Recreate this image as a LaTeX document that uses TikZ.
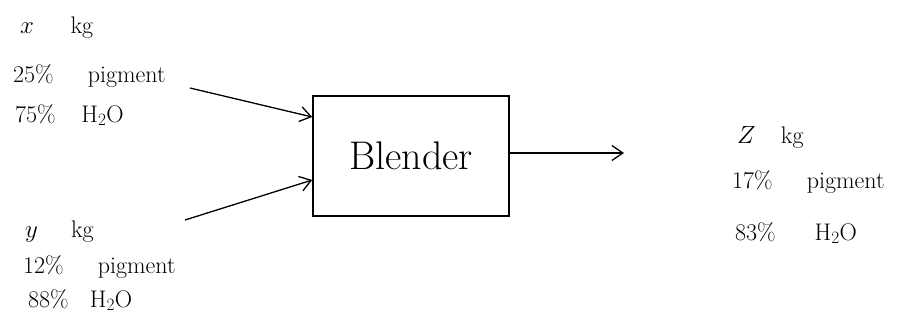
\documentclass[tikz,border=0pt]{standalone}
\usepackage{amsmath}
\usepackage{tikz}
\usetikzlibrary{arrows.meta}
\tikzset{every picture/.append style={font=\fontsize{24}{28}\selectfont}}
\newcommand{\gap}{\hspace{1.42em}}
\tikzset{
  stream/.style={anchor=base west,inner sep=0pt},
  flow/.style={-{Straight Barb[length=11pt,width=15pt]},line width=1.3pt},
  unit/.style={draw,line width=1.5pt,minimum width=196pt,minimum height=120pt,
    font=\fontsize{40}{46}\selectfont},
}

\begin{document}
\begin{tikzpicture}[x=1pt,y=-1pt]
    \useasboundingbox (0,0) rectangle (902,332);
    \node[unit] (blender) at (411,156) {Blender};
    % feed x
    \node[stream] (xmass) at (20,33) {$x$\hspace{1.52em}kg};
    \node[stream] (xpig) at (13,82) {25\%\gap pigment};
    \node[stream] (xwat) at (15,122) {75\%\hspace{1.07em}H$_2$O};
    % feed y
    \node[stream] (ymass) at (25,237) {$y$\hspace{1.38em}kg};
    \node[stream] (ypig) at (23,273) {12\%\gap pigment};
    \node[stream] (ywat) at (28,307) {88\%\hspace{0.88em}H$_2$O};
    % product z
    \node[stream] (zmass) at (737,143) {$Z$\hspace{1.05em}kg};
    \node[stream] (zpig) at (732,188) {17\%\gap pigment};
    \node[stream] (zwat) at (735,240) {83\%\hspace{1.62em}H$_2$O};
    \coordinate (xin) at (190,88);
    \coordinate (yin) at (185,220);
    \coordinate (zout) at (624,153);
    \draw[flow] (xin) -- ([yshift=39pt]blender.west);
    \draw[flow] (yin) -- ([yshift=-24pt]blender.west);
    \draw[flow] ([yshift=3pt]blender.east) -- (zout);
  \end{tikzpicture}
\end{document}
